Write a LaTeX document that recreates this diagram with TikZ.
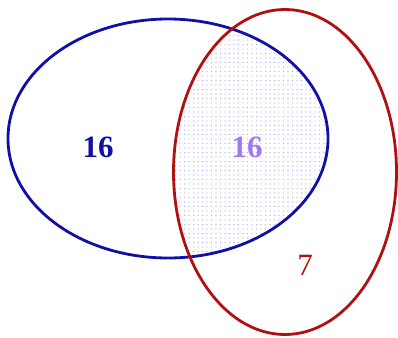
\documentclass[tikz,border=0pt]{standalone}
\usepackage{fontspec}
\setmainfont{Liberation Serif}
\usetikzlibrary{patterns.meta}
\definecolor{setblue}{HTML}{1010A8}
\definecolor{setred}{HTML}{B01010}
\definecolor{setlav}{HTML}{A078F0}
\definecolor{dotcol}{HTML}{A8A8F0}
\tikzset{
  setline/.style={line width=2.8pt},
  numlabel/.style={font=\fontsize{31}{31}\selectfont\bfseries, inner sep=0pt},
}
\begin{document}
\begin{tikzpicture}[x=1pt,y=-1pt]
\useasboundingbox (0,0) rectangle (398,337);
\begin{scope}
  \clip (168,138.5) ellipse [x radius=160, y radius=119.5];
  \fill[pattern={Dots[radius=0.6pt,distance=4.5pt]}, pattern color=dotcol]
    (285,172) ellipse [x radius=111.5, y radius=162.5];
\end{scope}
\draw[setline, setblue] (168,138.5) ellipse [x radius=160, y radius=119.5];
\draw[setline, setred] (285,172) ellipse [x radius=111.5, y radius=162.5];
\node[numlabel, text=setblue] (a) at (98,147) {16};
\node[numlabel, text=setlav] (b) at (247,147) {16};
\node[numlabel, text=setred, font=\fontsize{31}{31}\selectfont] (c) at (305,265) {7};
\end{tikzpicture}
\end{document}
